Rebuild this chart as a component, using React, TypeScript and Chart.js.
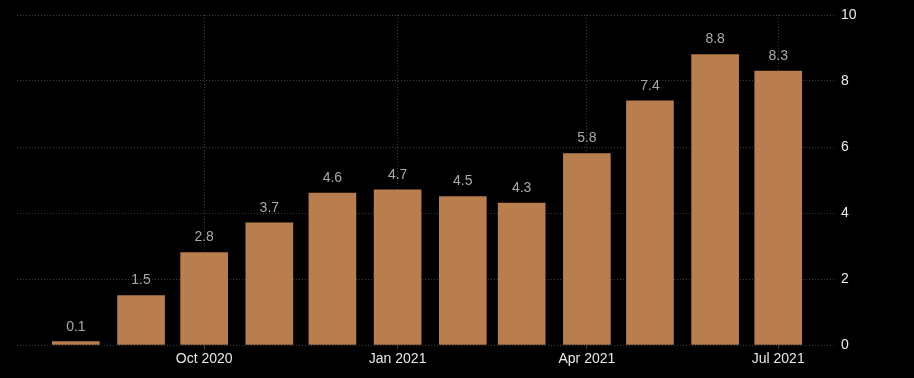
import React, { useEffect, useRef } from "react";
import { Chart, registerables } from "chart.js";

Chart.register(...registerables);

const months: string[] = [
  "2020-08", "2020-09", "2020-10", "2020-11", "2020-12", "2021-01",
  "2021-02", "2021-03", "2021-04", "2021-05", "2021-06", "2021-07",
];
const values: number[] = [0.1, 1.5, 2.8, 3.7, 4.6, 4.7, 4.5, 4.3, 5.8, 7.4, 8.8, 8.3];
const xTickMonths: string[] = ["2020-10", "2021-01", "2021-04", "2021-07"];
const xTickLabels: string[] = ["Oct 2020", "Jan 2021", "Apr 2021", "Jul 2021"];
const yTicks: number[] = [0, 2, 4, 6, 8, 10];

const dayOf = (ym: string): number => {
  const [y, m] = ym.split("-").map(Number);
  return Date.UTC(y, m - 1, 1) / 86400000;
};

const FONT = "'Liberation Sans', Arial, sans-serif";

const valueLabels = {
  id: "valueLabels",
  afterDatasetsDraw(chart: any) {
    const ctx = chart.ctx;
    const meta = chart.getDatasetMeta(0);
    ctx.save();
    ctx.font = `14px ${FONT}`;
    ctx.fillStyle = "#a9a9a9";
    ctx.textAlign = "center";
    ctx.textBaseline = "bottom";
    meta.data.forEach((bar: any, i: number) => {
      ctx.fillText(values[i].toFixed(1), bar.x, bar.y - 8);
    });
    ctx.restore();
  },
};

export default function App() {
  const ref = useRef<HTMLCanvasElement>(null);
  useEffect(() => {
    document.body.style.margin = "0";
    document.body.style.background = "#000";
    const data = months.map((m, i) => ({ x: dayOf(m), y: values[i] }));
    const chart = new Chart(ref.current as HTMLCanvasElement, {
      type: "bar",
      data: {
        datasets: [
          {
            data: data as any,
            backgroundColor: "#b87e4e",
            borderWidth: 0,
            barThickness: 47,
          },
        ],
      },
      options: {
        animation: false,
        responsive: false,
        maintainAspectRatio: false,
        layout: { padding: { left: 17, top: 15, right: 0, bottom: 0 } },
        plugins: { legend: { display: false }, tooltip: { enabled: false } },
        scales: {
          x: {
            type: "linear",
            offset: false,
            min: dayOf(months[0]) - 28,
            max: dayOf(months[months.length - 1]) + 27,
            afterBuildTicks: (scale: any) => {
              scale.ticks = xTickMonths.map((m) => ({ value: dayOf(m) }));
            },
            afterFit: (scale: any) => {
              scale.height = 33;
            },
            ticks: {
              color: "#e8e8e8",
              font: { family: FONT, size: 14 },
              padding: 2,
              maxRotation: 0,
              autoSkip: false,
              callback: (v: any) => {
                const idx = xTickMonths.findIndex((m) => dayOf(m) === v);
                return idx >= 0 ? xTickLabels[idx] : "";
              },
            },
            grid: {
              offset: false,
              color: "#3c3c3c",
              lineWidth: 1,
              tickLength: 4,
              drawTicks: true,
            },
            border: { display: false, dash: [1, 2] },
          },
          y: {
            position: "right",
            min: 0,
            max: 10,
            afterBuildTicks: (scale: any) => {
              scale.ticks = yTicks.map((v) => ({ value: v }));
            },
            afterFit: (scale: any) => {
              scale.width = 79;
            },
            ticks: {
              color: "#ececec",
              font: { family: FONT, size: 14 },
              padding: 6,
              callback: (v: any) => String(v),
            },
            grid: { color: "#3c3c3c", lineWidth: 1, drawTicks: false },
            border: { display: false, dash: [1, 2] },
          },
        },
      },
      plugins: [valueLabels],
    } as any);
    return () => chart.destroy();
  }, []);
  return <canvas ref={ref} width={914} height={378} style={{ display: "block" }} />;
}
